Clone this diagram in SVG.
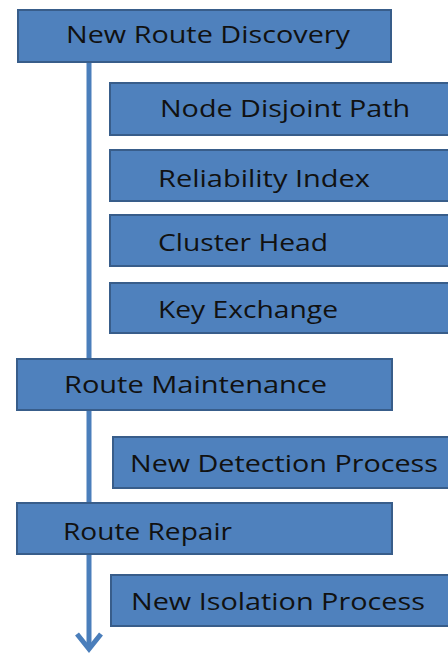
<svg xmlns="http://www.w3.org/2000/svg" width="448" height="654" viewBox="0 0 448 654">
  <style>
    .box { fill: #4F81BD; stroke: #385D8A; stroke-width: 2; }
    .lbl { font-family: "Open Sans", "Noto Sans", "Liberation Sans", sans-serif; font-size: 23px; fill: #111; }
    .flow { stroke: #4A7EBB; stroke-width: 5; fill: none; }
  </style>
  <rect width="448" height="654" fill="#fff"/>

  <!-- main vertical flow line with open arrowhead -->
  <g id="connectors">
    <line class="flow" x1="89" y1="62" x2="89" y2="648"/>
    <polyline class="flow" points="77,634 89,649 101,634" stroke-linejoin="miter"/>
  </g>

  <g id="new-route-discovery">
    <rect class="box" x="18" y="10" width="373" height="52"/>
    <text class="lbl" x="66" y="43" textLength="284" lengthAdjust="spacingAndGlyphs">New Route Discovery</text>
  </g>
  <g id="node-disjoint-path">
    <rect class="box" x="110" y="83" width="345" height="52"/>
    <text class="lbl" x="160" y="117" textLength="250" lengthAdjust="spacingAndGlyphs">Node Disjoint Path</text>
  </g>
  <g id="reliability-index">
    <rect class="box" x="110" y="150" width="345" height="51"/>
    <text class="lbl" x="158" y="187" textLength="212" lengthAdjust="spacingAndGlyphs">Reliability Index</text>
  </g>
  <g id="cluster-head">
    <rect class="box" x="110" y="215" width="345" height="51"/>
    <text class="lbl" x="158" y="251" textLength="170" lengthAdjust="spacingAndGlyphs">Cluster Head</text>
  </g>
  <g id="key-exchange">
    <rect class="box" x="110" y="283" width="345" height="50"/>
    <text class="lbl" x="158" y="318" textLength="180" lengthAdjust="spacingAndGlyphs">Key Exchange</text>
  </g>
  <g id="route-maintenance">
    <rect class="box" x="17" y="359" width="375" height="51"/>
    <text class="lbl" x="64" y="393" textLength="263" lengthAdjust="spacingAndGlyphs">Route Maintenance</text>
  </g>
  <g id="new-detection-process">
    <rect class="box" x="113" y="437" width="342" height="51"/>
    <text class="lbl" x="130" y="472" textLength="308" lengthAdjust="spacingAndGlyphs">New Detection Process</text>
  </g>
  <g id="route-repair">
    <rect class="box" x="17" y="503" width="375" height="51"/>
    <text class="lbl" x="63" y="540" textLength="169" lengthAdjust="spacingAndGlyphs">Route Repair</text>
  </g>
  <g id="new-isolation-process">
    <rect class="box" x="111" y="575" width="344" height="51"/>
    <text class="lbl" x="131" y="610" textLength="294" lengthAdjust="spacingAndGlyphs">New Isolation Process</text>
  </g>
</svg>
